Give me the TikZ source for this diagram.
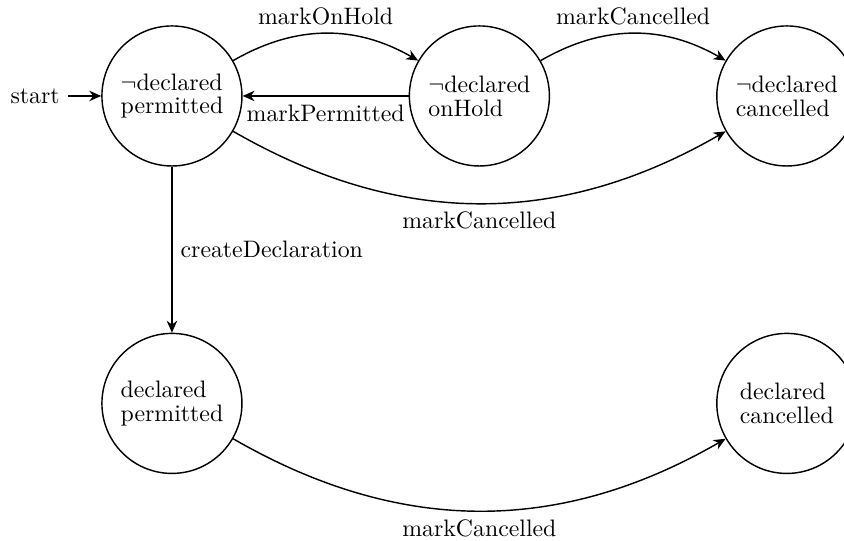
\documentclass[tikz,border=0pt]{standalone}
\usetikzlibrary{positioning,arrows.meta}
\tikzset{>={Stealth[length=5pt,width=4.4pt,inset=1.6pt]}}
\tikzset{
  stateNode/.style={circle,draw,semithick,minimum size=58.8pt,inner sep=0pt,
    align=left,font=\fontsize{10pt}{10pt}\selectfont},
  trans/.style={->,semithick}
}

\begin{document}
\begin{tikzpicture}[node distance=69.7pt]
  \useasboundingbox (-72.2pt,-186.5pt) rectangle (282.2pt,40.3pt);
  % states
  \node[stateNode] (nPermitted) at (0,0) {$\neg$declared\\permitted};
  \node[stateNode] (nOnHold) [right=of nPermitted] {$\neg$declared\\onHold};
  \node[stateNode] (nCancelled) [right=of nOnHold] {$\neg$declared\\cancelled};
  \node[stateNode] (dPermitted) [below=of nPermitted] {declared\\permitted};
  \node[stateNode] (dCancelled) [below=of nCancelled] {declared\\cancelled};
  \node (start) [left=13.9pt of nPermitted] {start};

  % transitions
  \draw[trans] (start) -- (nPermitted);
  \draw[trans] (nPermitted) to[bend left] node[above] {markOnHold} (nOnHold);
  \draw[trans] (nOnHold) -- node[below] {markPermitted} (nPermitted);
  \draw[trans] (nOnHold) to[bend left] node[above] {markCancelled} (nCancelled);
  \draw[trans] (nPermitted) to[bend right] node[below] {markCancelled} (nCancelled);
  \draw[trans] (nPermitted) -- node[right] {createDeclaration} (dPermitted);
  \draw[trans] (dPermitted) to[bend right] node[below] {markCancelled} (dCancelled);
\end{tikzpicture}
\end{document}
